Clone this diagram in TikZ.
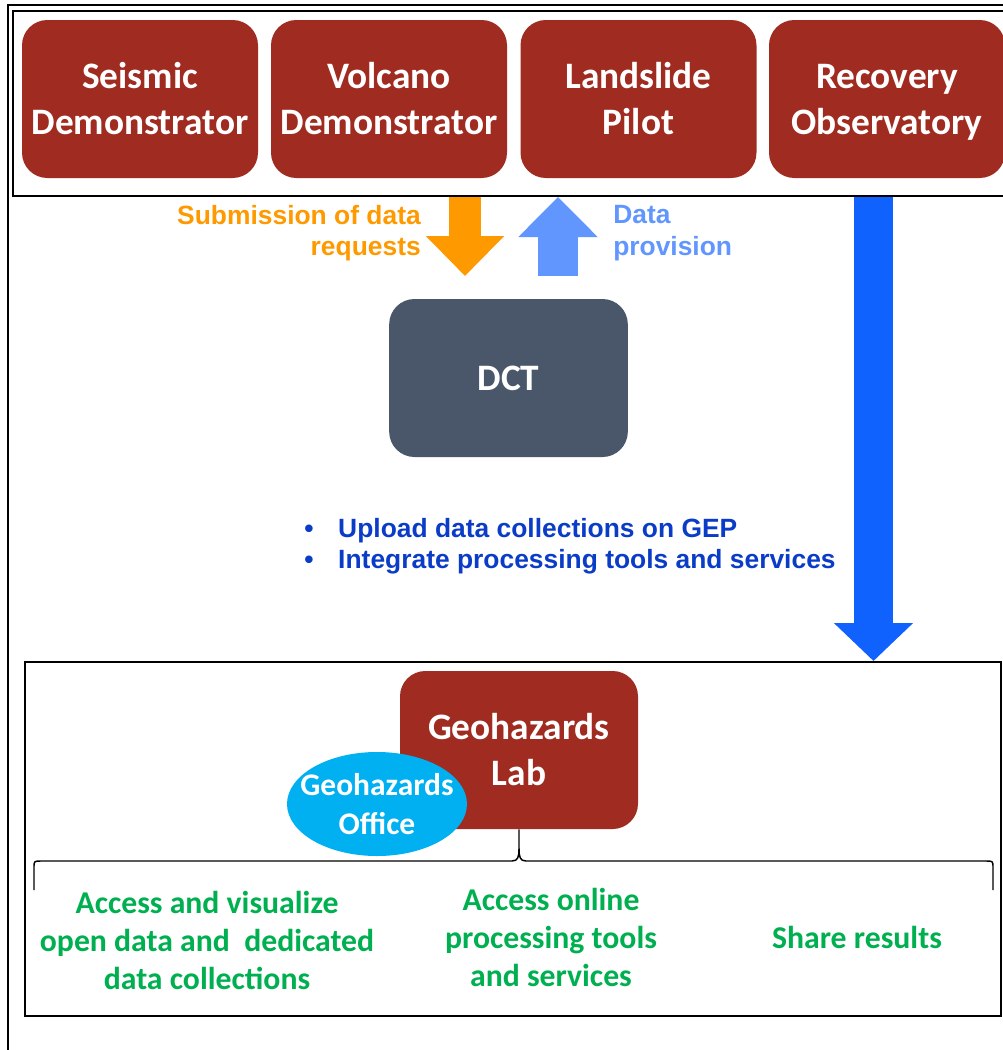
\documentclass[tikz,border=0pt]{standalone}
\usepackage{fontspec}
\setmainfont{Carlito}
\newfontfamily\arialfont{Liberation Sans}
\usepackage{tikz}
\usetikzlibrary{arrows.meta,shapes.geometric}
\definecolor{hazred}{HTML}{9F2B21}
\definecolor{slate}{HTML}{4A5669}
\definecolor{skyblue}{HTML}{00B0F0}
\definecolor{leaf}{HTML}{00B050}
\definecolor{amber}{HTML}{FF9900}
\definecolor{lightblue}{HTML}{6196FF}
\definecolor{royal}{HTML}{0F62FE}
\definecolor{navy}{HTML}{0A3CC8}
\tikzset{
  frame/.style={draw=black, line width=1.5pt, inner sep=0pt},
  demo/.style={fill=hazred, rounded corners=19pt, minimum width=177pt, minimum height=118.5pt,
    align=center, text=white, inner sep=0pt, font=\fontsize{28}{34.5}\selectfont\bfseries},
  dctbox/.style={demo, fill=slate, minimum width=179pt},
  office/.style={ellipse, fill=skyblue, minimum width=135pt, minimum height=78pt, inner sep=-30pt,
    align=center, text=white, font=\fontsize{23.6}{29.5}\selectfont\bfseries},
  flow/.style={inner sep=0pt, font=\arialfont\fontsize{19.8}{23.6}\selectfont\bfseries},
  task/.style={text=leaf, align=center, inner sep=0pt, font=\fontsize{23.8}{28.5}\selectfont\bfseries},
  reqarrow/.style={amber, line width=24pt, -{Triangle[length=30pt,width=57pt]}},
  provarrow/.style={lightblue, line width=30pt, -{Triangle[length=30pt,width=57.75pt]}},
  bigarrow/.style={royal, line width=29.25pt, -{Triangle[length=28.5pt,width=57.75pt]}},
  brace/.style={draw=black, line width=1.1pt, line join=round}
}

\begin{document}
\begin{tikzpicture}[x=0.75pt, y=-0.75pt]
  \useasboundingbox (0,0) rectangle (1003,1050);
  \clip (0,0) rectangle (1003,1050);

  \draw[line width=1.5pt] (8,1060) -- (8,5) -- (1010,5);

  \node[frame, minimum width=747.75pt, minimum height=138.75pt] (top) at (511.5,103.5) {};
  \node[demo] (seismic) at (140,99) {Seismic\\Demonstrator};
  \node[demo] (volcano) at (389,99) {Volcano\\Demonstrator};
  \node[demo] (landslide) at (638.5,99) {Landslide\\Pilot};
  \node[demo] (recovery) at (887,99) {Recovery\\\smash{Observatory}};

  \node[dctbox] (dct) at (508.5,378) {DCT};

  \coordinate (req) at (465,276);
  \coordinate (prov) at (558,276);
  \coordinate (gep) at (873.5,400);
  \draw[reqarrow] (top.south -| req) -- (req);
  \draw[provarrow] (prov) -- (top.south -| prov);

  \node[flow, text=amber, align=right, anchor=east] (reqtext) at (421,233) {Submission of data\\requests};
  \node[flow, text=lightblue, align=left, anchor=west] (provtext) at (613,233) {Data\\provision};

  \node[flow, text=navy, align=left, anchor=west] (upload) at (304,546)
    {\makebox[25.5pt][l]{\textbullet}Upload data collections on GEP\\
     \makebox[25.5pt][l]{\textbullet}Integrate processing tools and services};

  \node[frame, minimum width=732pt, minimum height=265.5pt] (bot) at (513,839) {};
  \draw[bigarrow] (top.south -| gep) -- (bot.north -| gep);

  \node[demo, minimum width=178.5pt] (lab) at (519,750) {Geohazards\\Lab};
  \node[office] (office) at (377,804) {Geohazards\\Office};

  \coordinate (braceL) at (34,890);
  \coordinate (braceR) at (993,890);
  \draw[brace] (braceL) -- (34,868) .. controls (34,861) .. (41,861) -- (512,861)
    .. controls (518,861) and (519,857) .. (519,848) -- (lab.south)
    (lab.south) -- (519,848) .. controls (519,857) and (520,861) .. (526,861) -- (986,861)
    .. controls (993,861) .. (993,868) -- (braceR);

  \node[task] (visualize) at (207,940) {Access and visualize\\open data and\ \ dedicated\\data collections};
  \node[task] (online) at (551,937) {Access online\\processing tools\\and services};
  \node[task] (share) at (857,937) {Share results};
\end{tikzpicture}
\end{document}
